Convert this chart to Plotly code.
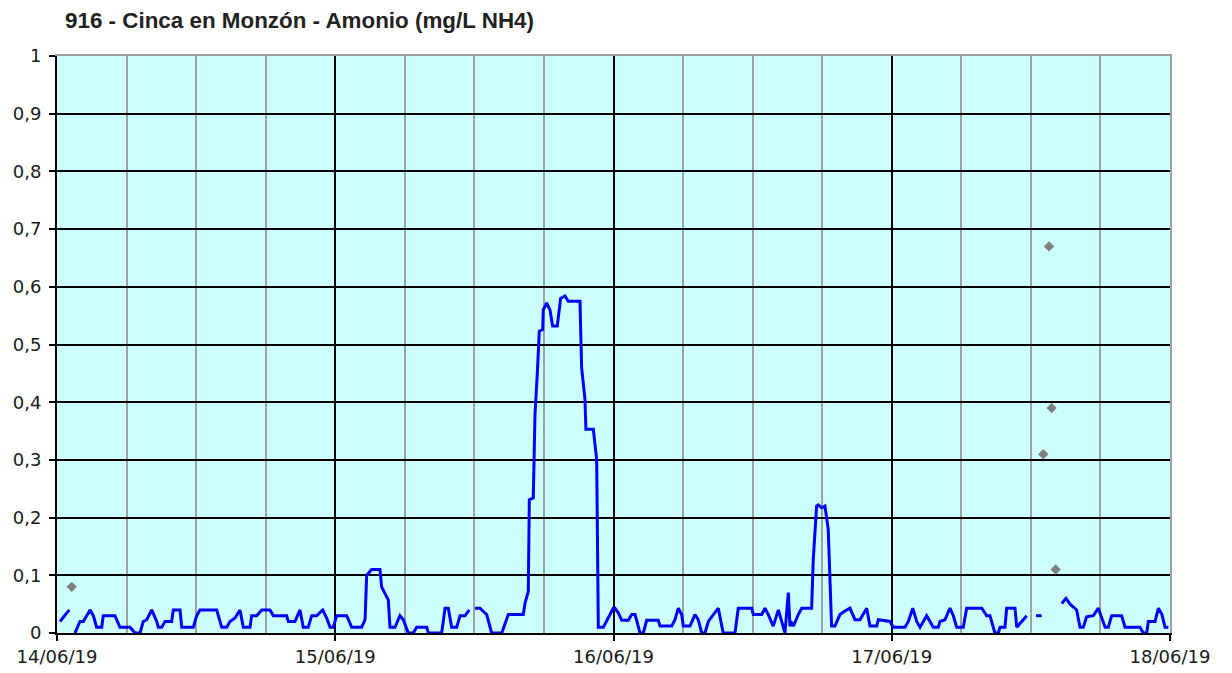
import pandas as pd
import plotly.graph_objects as go

START = "2019-06-14 00:00"

# hours since 14/06/19 00:00 and ammonium values (mg/L NH4); None marks gaps
line_hours = [
    0.26, 0.69, 1.06, 1.30,
    1.55, 1.98, 2.27, 2.85, 3.13, 3.42, 3.86, 3.99, 5.00, 5.43, 6.30, 6.73, 7.16,
    7.44, 7.74, 8.17, 8.60, 8.74, 9.03, 9.32, 9.89, 10.03, 10.61, 10.76, 11.76,
    12.05, 12.33, 13.77, 14.21, 14.64, 14.92, 15.35, 15.78, 16.07, 16.65, 16.79,
    17.22, 17.66, 18.37, 18.66, 19.81, 19.95, 20.53, 20.96, 21.24, 21.67, 21.97,
    22.40, 22.92, 23.26, 23.55, 23.83, 24.12, 24.99, 25.42, 26.28, 26.57, 26.71,
    27.14, 27.86, 28.00, 28.58, 28.72, 29.15, 29.58, 29.87, 30.30, 30.73, 31.02,
    31.89, 32.03, 33.18, 33.47, 33.75, 34.04, 34.48, 34.76, 35.19, 35.56, 35.80,
    36.05, 36.48, 37.06, 37.49, 38.36, 38.93, 40.22, 40.37, 40.65, 40.74, 41.08,
    41.14, 41.23, 41.43, 41.60, 41.89, 41.94, 42.24, 42.52, 42.75, 43.15, 43.32,
    43.44, 43.82, 44.10, 45.11, 45.25, 45.54, 45.62, 46.26, 46.55, 46.69, 47.12,
    47.98, 48.13, 48.41, 48.71, 49.28, 49.57, 49.86, 50.29, 50.57, 50.86, 51.86,
    52.01, 53.02, 53.30, 53.59, 53.88, 54.02, 54.60, 55.03, 55.31, 55.61, 55.89,
    56.18, 56.61, 57.04, 57.34, 57.47, 58.48, 58.76, 59.92, 60.06, 60.78, 61.07,
    61.35, 61.78, 62.22, 62.65, 62.79, 63.08, 63.22, 63.37, 63.51, 63.94, 64.23,
    65.09, 65.23, 65.52, 65.66, 65.95, 66.24, 66.52, 66.67, 66.81, 67.10, 67.53,
    67.96, 68.39, 68.83, 69.26, 69.84, 70.12, 70.70, 70.84, 71.85, 72.13, 73.14,
    73.43, 73.81, 74.15, 74.44, 74.72, 75.01, 75.30, 75.58, 76.01, 76.16, 76.59,
    77.02, 77.31, 77.60, 78.17, 78.46, 79.76, 80.19, 80.47, 80.76, 80.90, 81.19,
    81.34, 81.77, 81.91, 82.63, 82.78, 83.21, 83.64, 84.00,
    84.44, 84.93, 85.50,
    86.66, 87.03, 87.38, 87.95, 88.24, 88.52, 88.81, 89.39, 89.82, 90.11, 90.40,
    90.68, 90.97, 91.83, 92.12, 93.41, 93.70, 93.99, 94.13, 94.71, 95.00, 95.29,
    95.57, 95.86,
]
line_values = [
    0.02, 0.03, 0.04, None,
    0.0, 0.02, 0.02, 0.04, 0.03, 0.01, 0.01, 0.03, 0.03, 0.01, 0.01, 0.0, 0.0,
    0.02, 0.023, 0.04, 0.02, 0.01, 0.01, 0.02, 0.02, 0.04, 0.04, 0.01, 0.01,
    0.03, 0.04, 0.04, 0.01, 0.01, 0.02, 0.026, 0.04, 0.01, 0.01, 0.03,
    0.03, 0.04, 0.04, 0.03, 0.03, 0.02, 0.02, 0.04, 0.01, 0.01, 0.03,
    0.03, 0.04, 0.026, 0.01, 0.01, 0.03, 0.03, 0.01, 0.01, 0.023, 0.10,
    0.11, 0.11, 0.08, 0.057, 0.01, 0.01, 0.03, 0.023, 0.0, 0.0, 0.01,
    0.01, 0.0, 0.0, 0.043, 0.043, 0.01, 0.01, 0.03, 0.03, 0.04, None,
    0.043, 0.043, 0.032, 0.0, 0.0, 0.032, 0.032, 0.052, 0.072, 0.231, 0.234,
    0.30, 0.38, 0.45, 0.523, 0.526, 0.56, 0.572, 0.56, 0.532, 0.532, 0.56,
    0.58, 0.584, 0.575, 0.575, 0.46, 0.405, 0.353, 0.353, 0.30, 0.01, 0.01,
    0.043, 0.043, 0.035, 0.022, 0.022, 0.032, 0.032, 0.0, 0.0, 0.022, 0.022,
    0.012, 0.012, 0.023, 0.043, 0.032, 0.012, 0.012, 0.032, 0.023, 0.0, 0.0,
    0.02, 0.032, 0.043, 0.012, 0.0, 0.0, 0.043, 0.043, 0.032, 0.032, 0.043,
    0.032, 0.012, 0.04, 0.012, 0.0, 0.07, 0.012, 0.017, 0.012, 0.032, 0.043,
    0.043, 0.127, 0.22, 0.222, 0.217, 0.22, 0.18, 0.092, 0.012, 0.012, 0.032,
    0.038, 0.043, 0.023, 0.023, 0.043, 0.012, 0.012, 0.023, 0.02, 0.01, 0.01,
    0.02, 0.043, 0.02, 0.01, 0.02, 0.03, 0.02, 0.01, 0.01, 0.02, 0.023,
    0.043, 0.03, 0.01, 0.01, 0.043, 0.043, 0.03, 0.03, 0.01, 0.0, 0.0,
    0.01, 0.01, 0.043, 0.043, 0.01, 0.02, 0.03, None,
    0.03, 0.03, None,
    0.051, 0.06, 0.05, 0.04, 0.01, 0.01, 0.028, 0.03, 0.043, 0.028, 0.01,
    0.01, 0.03, 0.03, 0.01, 0.01, 0.0, 0.0, 0.02, 0.02, 0.043, 0.033,
    0.01, 0.01,
]

# isolated (non-validated) points shown as grey diamonds
point_hours = [1.27, 85.07, 85.56, 85.79, 86.14]
point_values = [0.08, 0.31, 0.67, 0.39, 0.11]

title_text = "916 - Cinca en Monzón - Amonio (mg/L NH4)"
y_ticks = [0, 0.1, 0.2, 0.3, 0.4, 0.5, 0.6, 0.7, 0.8, 0.9, 1]

t0 = pd.Timestamp(START)
t1 = t0 + pd.Timedelta(days=4)
line_x = t0 + pd.to_timedelta(line_hours, unit="h")
point_x = t0 + pd.to_timedelta(point_hours, unit="h")

BORDER = "#A0A0A0"
TICKFONT = dict(family="DejaVu Sans", size=18, color="#1a1a1a")

fig = go.Figure()
fig.add_trace(go.Scatter(
    x=line_x, y=line_values, mode="lines", connectgaps=False,
    line=dict(color="#0000FF", width=3), showlegend=False, hoverinfo="x+y",
))
fig.add_trace(go.Scatter(
    x=point_x, y=point_values, mode="markers",
    marker=dict(symbol="diamond", color="#808080", size=8),
    showlegend=False,
))
# empty trace that carries the grey top/right frame axes
fig.add_trace(go.Scatter(x=[], y=[], xaxis="x2", yaxis="y2", showlegend=False))

fig.update_layout(
    width=1232, height=673,
    margin=dict(l=49, r=70, t=48, b=48),
    paper_bgcolor="white",
    plot_bgcolor="#CCFFFF",
    separators=", ",
    font=dict(family="DejaVu Sans", size=18, color="black"),
    title=dict(
        text="<b>" + title_text + "</b>",
        x=0, xref="paper", xanchor="left",
        y=1 - 12.5 / 673, yref="container", yanchor="middle",
        font=dict(family="Liberation Sans", size=22.4, color="#222222"),
        pad=dict(l=8),
    ),
    xaxis=dict(
        type="date",
        range=[t0, t1],
        dtick=86400000,
        tick0=t0,
        tickformat="%d/%m/%y",
        ticks="outside", ticklen=6, tickwidth=1.5, tickcolor="black",
        showgrid=True, gridcolor="black", gridwidth=1.5,
        minor=dict(dtick=6 * 3600000, showgrid=True, gridcolor=BORDER, gridwidth=2, ticks=""),
        showline=True, linecolor="black", linewidth=2,
        zeroline=False, automargin=False,
        tickfont=TICKFONT,
    ),
    yaxis=dict(
        range=[0, 1],
        tickvals=y_ticks,
        ticks="outside", ticklen=6, tickwidth=1.5, tickcolor="black",
        ticklabelstandoff=4,
        showgrid=True, gridcolor="black", gridwidth=1.5,
        showline=True, linecolor="black", linewidth=2,
        zeroline=False, automargin=False,
        tickfont=TICKFONT,
    ),
    xaxis2=dict(
        type="date", range=[t0, t1], overlaying="x", side="top", anchor="y2",
        showline=True, linecolor=BORDER, linewidth=2, automargin=False,
        showgrid=False, showticklabels=False, ticks="", zeroline=False,
    ),
    yaxis2=dict(
        range=[0, 1], overlaying="y", side="right", anchor="x2",
        showline=True, linecolor=BORDER, linewidth=2, automargin=False,
        showgrid=False, showticklabels=False, ticks="", zeroline=False,
    ),
)

fig.write_html("out.html")
